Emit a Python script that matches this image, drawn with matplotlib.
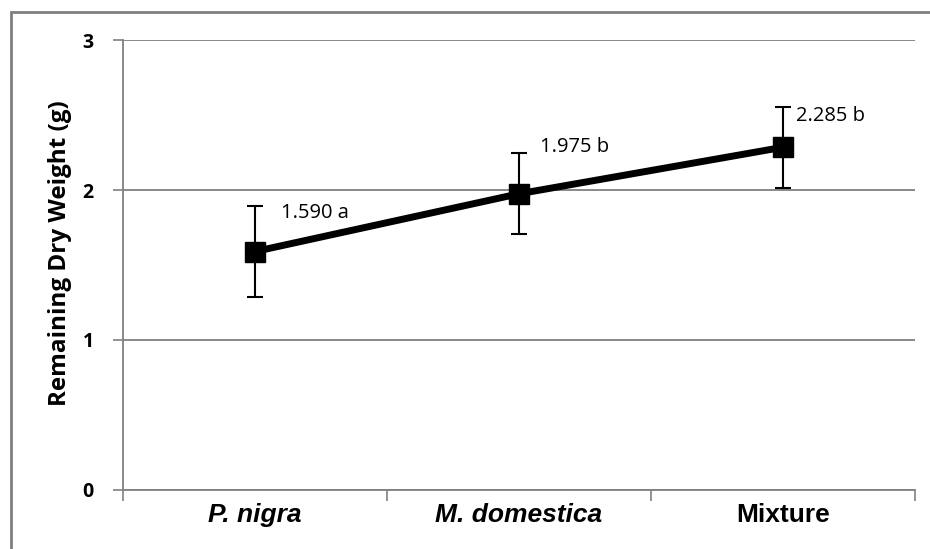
import matplotlib
matplotlib.use("Agg")
import matplotlib.pyplot as plt
from matplotlib.patches import Rectangle

# data
categories = ["P. nigra", "M. domestica", "Mixture"]
italic = [True, True, False]
means = [1.590, 1.975, 2.285]
errors = [0.305, 0.27, 0.27]
labels = ["1.590 a", "1.975 b", "2.285 b"]

fig = plt.figure(figsize=(9.3, 5.49), dpi=100)
ax = fig.add_axes([0.1323, 0.1075, 0.8516, 0.8196])

x = list(range(len(categories)))
ax.errorbar(x, means, yerr=errors, fmt='none', ecolor='black', elinewidth=1.5,
            capsize=6, capthick=1.5, zorder=3)
ax.plot(x, means, '-', color='black', lw=5, marker='s', markersize=15,
        markerfacecolor='black', markeredgecolor='black', zorder=4)

# value labels
offsets = [(0.1, 0.26), (0.08, 0.31), (0.05, 0.21)]
for i in range(len(x)):
    ax.text(x[i] + offsets[i][0], means[i] + offsets[i][1], labels[i],
            fontsize=14.5, family=['Open Sans', 'DejaVu Sans'],
            ha='left', va='center', zorder=5)

ax.set_xlim(-0.5, 2.5)
ax.set_ylim(0, 3)
ax.set_yticks([0, 1, 2, 3])
ax.set_yticklabels(['0', '1', '2', '3'], fontsize=14, fontweight='bold',
                   family=['Open Sans', 'DejaVu Sans'])
ax.set_xticks([-0.5, 0.5, 1.5, 2.5], minor=False)
ax.set_xticklabels([])
ax.tick_params(axis='x', which='major', length=8, color='#808080', width=1.2)
ax.tick_params(axis='y', length=7, color='#808080', width=1.2, pad=14)

for i in range(len(x)):
    ax.text(x[i], -0.085, categories[i], ha='center', va='top',
            fontsize=19, fontweight='bold',
            fontstyle='italic' if italic[i] else 'normal',
            family=['Liberation Sans Narrow', 'Liberation Sans'],
            transform=ax.transData, clip_on=False)

ax.grid(axis='y', color='#808080', lw=1.3)
ax.set_axisbelow(True)
for s in ['top', 'right']:
    ax.spines[s].set_visible(False)
ax.spines['left'].set_color('#808080')
ax.spines['bottom'].set_color('#808080')
ax.spines['left'].set_linewidth(1.3)
ax.spines['bottom'].set_linewidth(1.3)

ax.set_ylabel('Remaining Dry Weight (g)', fontsize=17.5, fontweight='bold',
              family=['Open Sans', 'DejaVu Sans'])
ax.yaxis.set_label_coords(-0.064, 0.527)

# outer frame
fig.patches.append(Rectangle((11 / 930, -0.05), 1.0, 1.05 - 12 / 549,
                             transform=fig.transFigure, fill=False,
                             edgecolor='#808080', lw=2))

fig.savefig('out.png', dpi=100)
